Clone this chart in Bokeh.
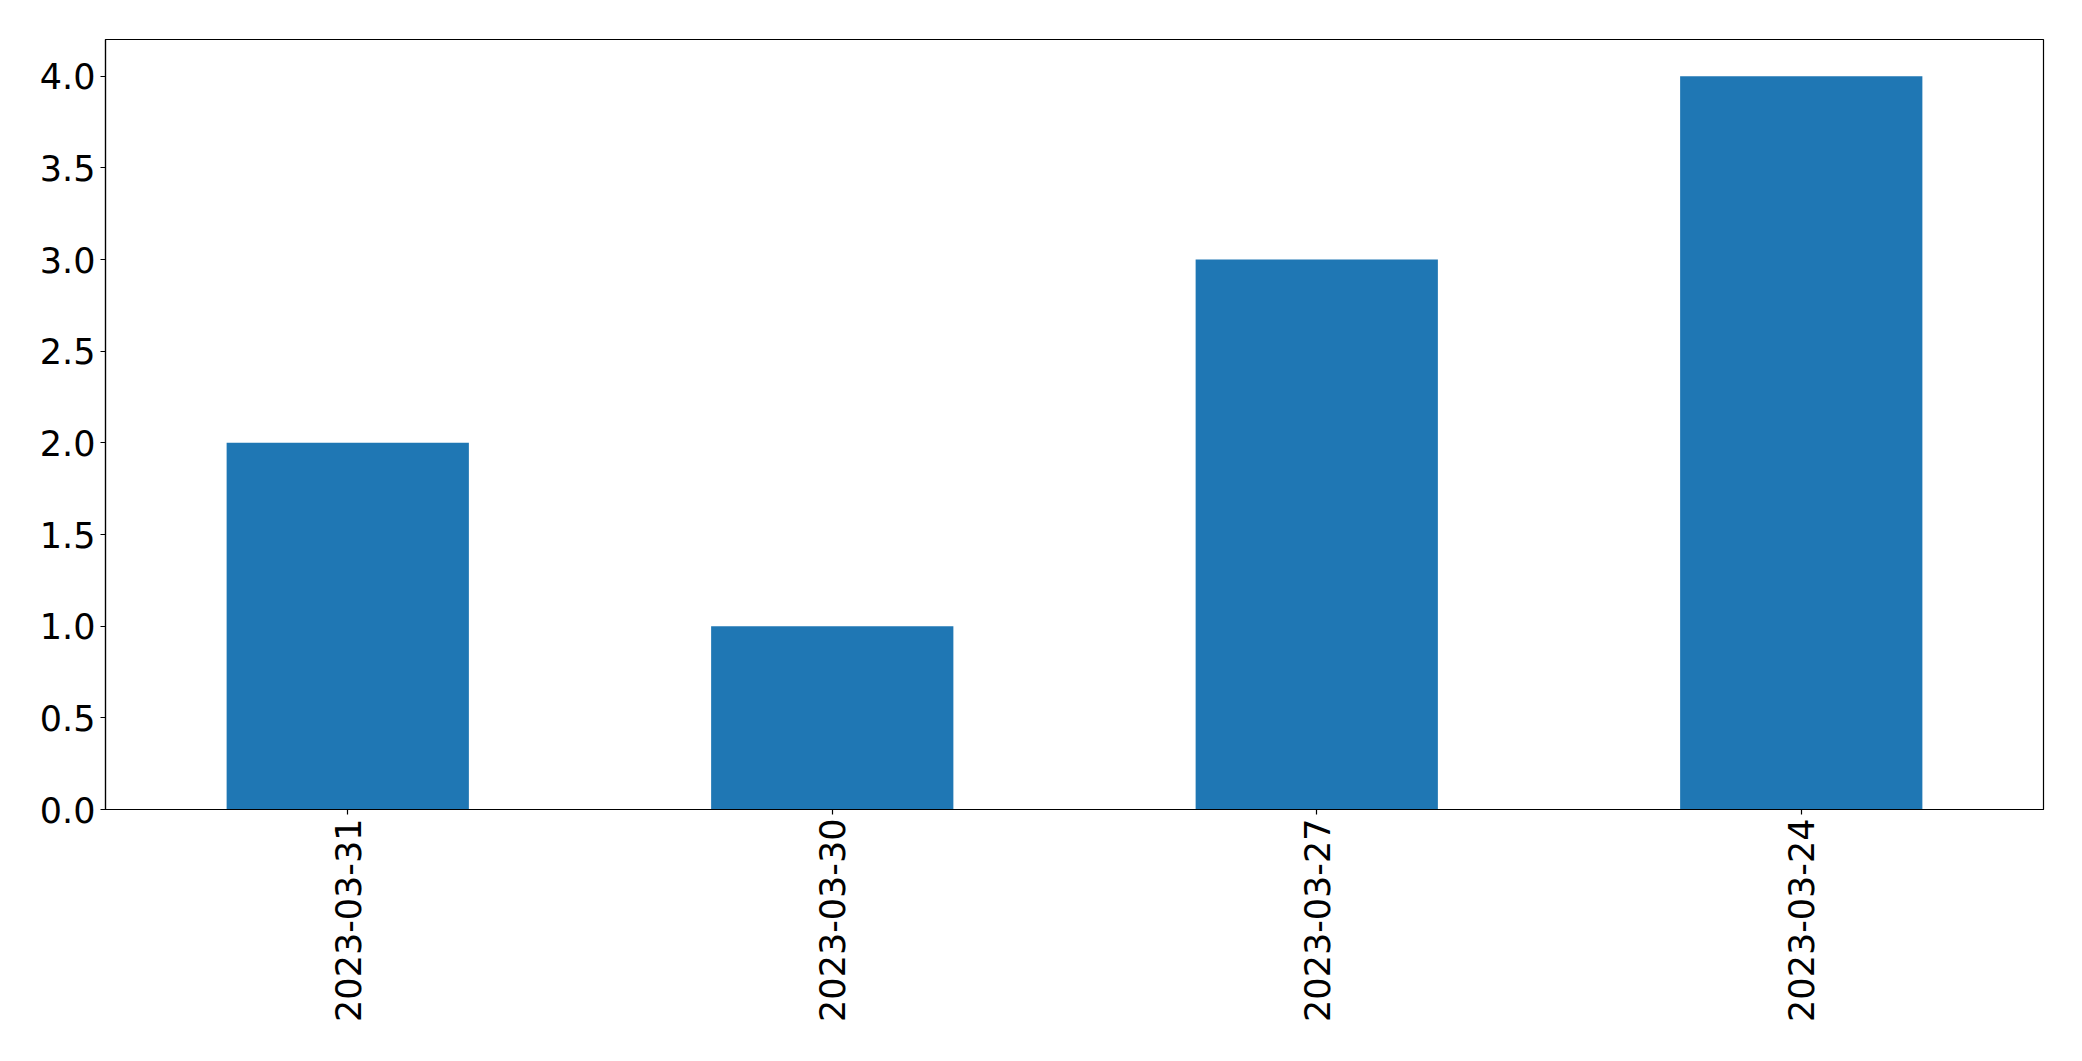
import math
from bokeh.plotting import figure
from bokeh.models import FixedTicker, PrintfTickFormatter, Range1d, FactorRange
from bokeh.embed import file_html
from bokeh.resources import INLINE

dates = ["2023-03-31", "2023-03-30", "2023-03-27", "2023-03-24"]
counts = [2, 1, 3, 4]
y_ticks = [0.0, 0.5, 1.0, 1.5, 2.0, 2.5, 3.0, 3.5, 4.0]

p = figure(
    x_range=FactorRange(factors=dates, range_padding=0),
    y_range=Range1d(0, 4.2),
    width=2074, height=1053,
    output_backend="svg", toolbar_location=None,
    min_border_left=105, min_border_right=31,
    min_border_top=39, min_border_bottom=244,
)
p.vbar(x=dates, top=counts, width=0.5, color="#1f77b4", line_color=None)

p.xgrid.grid_line_color = None
p.ygrid.grid_line_color = None
p.outline_line_color = "black"
p.outline_line_width = 1.2
p.background_fill_color = "white"
p.border_fill_color = "white"

for ax in (p.xaxis[0], p.yaxis[0]):
    ax.major_label_text_font = "DejaVu Sans"
    ax.major_label_text_font_size = "35px"
    ax.major_label_text_color = "black"
    ax.axis_line_color = "black"
    ax.axis_line_width = 1.2
    ax.major_tick_line_color = "black"
    ax.major_tick_line_width = 1.2
    ax.major_tick_out = 5
    ax.major_tick_in = 0
    ax.minor_tick_line_color = None

p.yaxis.ticker = FixedTicker(ticks=y_ticks)
p.yaxis.formatter = PrintfTickFormatter(format="%.1f")
p.yaxis.major_label_standoff = 5
p.xaxis.major_label_orientation = math.pi / 2
p.xaxis.major_label_standoff = 4
p.xaxis.separator_line_color = None
p.xaxis.group_text_font_size = "0px"

open("out.html", "w").write(file_html(p, INLINE))
